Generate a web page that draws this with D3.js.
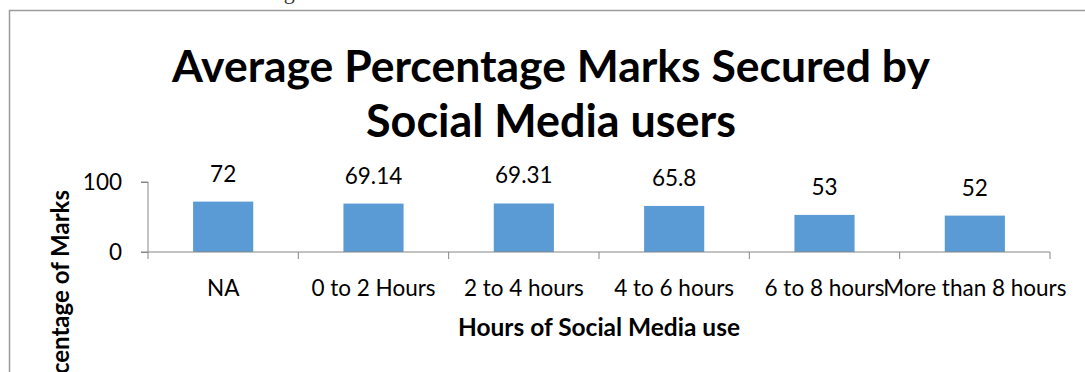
<!DOCTYPE html>
<html>
<head>
<meta charset="utf-8">
<script src="https://cdn.jsdelivr.net/npm/d3@7/dist/d3.min.js"></script>
<style>
  html, body { margin: 0; padding: 0; background: #fff; }
  svg { display: block; }
</style>
</head>
<body>
<svg id="chart" width="1085" height="372"></svg>
<script>
// Average marks by daily hours of social media use
const categories = ["NA", "0 to 2 Hours", "2 to 4 hours", "4 to 6 hours", "6 to 8 hours", "More than 8 hours"];
const values = [72, 69.14, 69.31, 65.8, 53, 52];
const yTicks = [0, 100];
const titleLines = ["Average Percentage Marks Secured by", "Social Media users"];
const xTitle = "Hours of Social Media use";
const yTitle = "Percentage of Marks";

const svg = d3.select("#chart");
const FONT = "Lato, 'Open Sans', sans-serif";
const LABEL_SIZE = 22.5;

// Scale a text's font size so its rendered width equals the given width
function fitWidth(sel, width) {
  const node = sel.node();
  const fs = parseFloat(sel.attr("font-size"));
  const w = node.getComputedTextLength();
  sel.attr("font-size", (fs * width / w).toFixed(2));
  return sel;
}

// Page fragment above the chart box
svg.append("text")
  .attr("x", 62).attr("y", -1)
  .attr("font-family", "'Liberation Serif', serif")
  .attr("font-size", 22)
  .attr("fill", "#333")
  .text("Social Media and Reading");

// Chart frame (continues beyond the visible area)
svg.append("path")
  .attr("d", "M9.5,372 V10.5 H1085")
  .attr("fill", "none")
  .attr("stroke", "#9b9b9b")
  .attr("stroke-width", 1.5);

// Plot area
const x0 = 148, x1 = 1050, yTop = 182, yBase = 252;

const x = d3.scaleBand().domain(categories).range([x0, x1]).paddingInner(0.6).paddingOuter(0.3);
const xBand = d3.scaleBand().domain(categories).range([x0, x1]);
const y = d3.scaleLinear().domain([0, 100]).range([yBase, yTop]);

// Title
const title = svg.append("g").attr("font-family", FONT).attr("font-weight", "bold").attr("fill", "#000");
fitWidth(title.append("text").attr("x", 551).attr("y", 82).attr("text-anchor", "middle")
  .attr("font-size", 44).text(titleLines[0]), 758);
fitWidth(title.append("text").attr("x", 551).attr("y", 137).attr("text-anchor", "middle")
  .attr("font-size", 44).text(titleLines[1]), 370);

// Bars
svg.append("g").selectAll("rect")
  .data(values)
  .join("rect")
  .attr("x", (d, i) => x(categories[i]))
  .attr("width", x.bandwidth())
  .attr("y", d => y(d))
  .attr("height", d => y(0) - y(d))
  .attr("fill", "#5b9bd5");

// Y axis
const yAxis = svg.append("g")
  .attr("transform", `translate(${x0},0)`)
  .call(d3.axisLeft(y).tickValues(yTicks).tickSize(7).tickPadding(19).tickFormat(d3.format("d")));
yAxis.select(".domain").attr("stroke", "#868686").attr("d", `M-7,${yTop}H0V${yBase}`);
yAxis.selectAll(".tick line").attr("stroke", "#868686");
yAxis.selectAll(".tick text")
  .attr("font-family", FONT).attr("font-size", LABEL_SIZE).attr("fill", "#000");

// X axis with tick marks on category boundaries
const xAxisG = svg.append("g").attr("transform", `translate(0,${yBase})`);
xAxisG.append("line")
  .attr("x1", x0 - 7).attr("x2", x1).attr("y1", 0).attr("y2", 0)
  .attr("stroke", "#868686");
xAxisG.selectAll("line.bound")
  .data(categories)
  .join("line")
  .attr("class", "bound")
  .attr("x1", d => xBand(d) + xBand.bandwidth()).attr("x2", d => xBand(d) + xBand.bandwidth())
  .attr("y1", 0).attr("y2", 7)
  .attr("stroke", "#868686");
xAxisG.append("line")
  .attr("x1", x0).attr("x2", x0).attr("y1", 0).attr("y2", 7)
  .attr("stroke", "#868686");
xAxisG.selectAll("text")
  .data(categories)
  .join("text")
  .attr("x", d => xBand(d) + xBand.bandwidth() / 2)
  .attr("y", 44)
  .attr("text-anchor", "middle")
  .attr("font-family", FONT).attr("font-size", LABEL_SIZE).attr("fill", "#000")
  .text(d => d);

// Value labels
svg.append("g").selectAll("text")
  .data(values)
  .join("text")
  .attr("x", (d, i) => xBand(categories[i]) + xBand.bandwidth() / 2)
  .attr("y", d => y(d) - 20)
  .attr("text-anchor", "middle")
  .attr("font-family", FONT).attr("font-size", LABEL_SIZE).attr("fill", "#000")
  .text(d => d);

// Axis titles
fitWidth(svg.append("text")
  .attr("x", 599).attr("y", 336)
  .attr("text-anchor", "middle")
  .attr("font-family", FONT).attr("font-weight", "bold").attr("font-size", 21).attr("fill", "#000")
  .text(xTitle), 282);

svg.append("text")
  .attr("transform", "translate(69,190) rotate(-90)")
  .attr("text-anchor", "end")
  .attr("font-family", FONT).attr("font-weight", "bold").attr("font-size", 24).attr("fill", "#000")
  .text(yTitle);
</script>
</body>
</html>
